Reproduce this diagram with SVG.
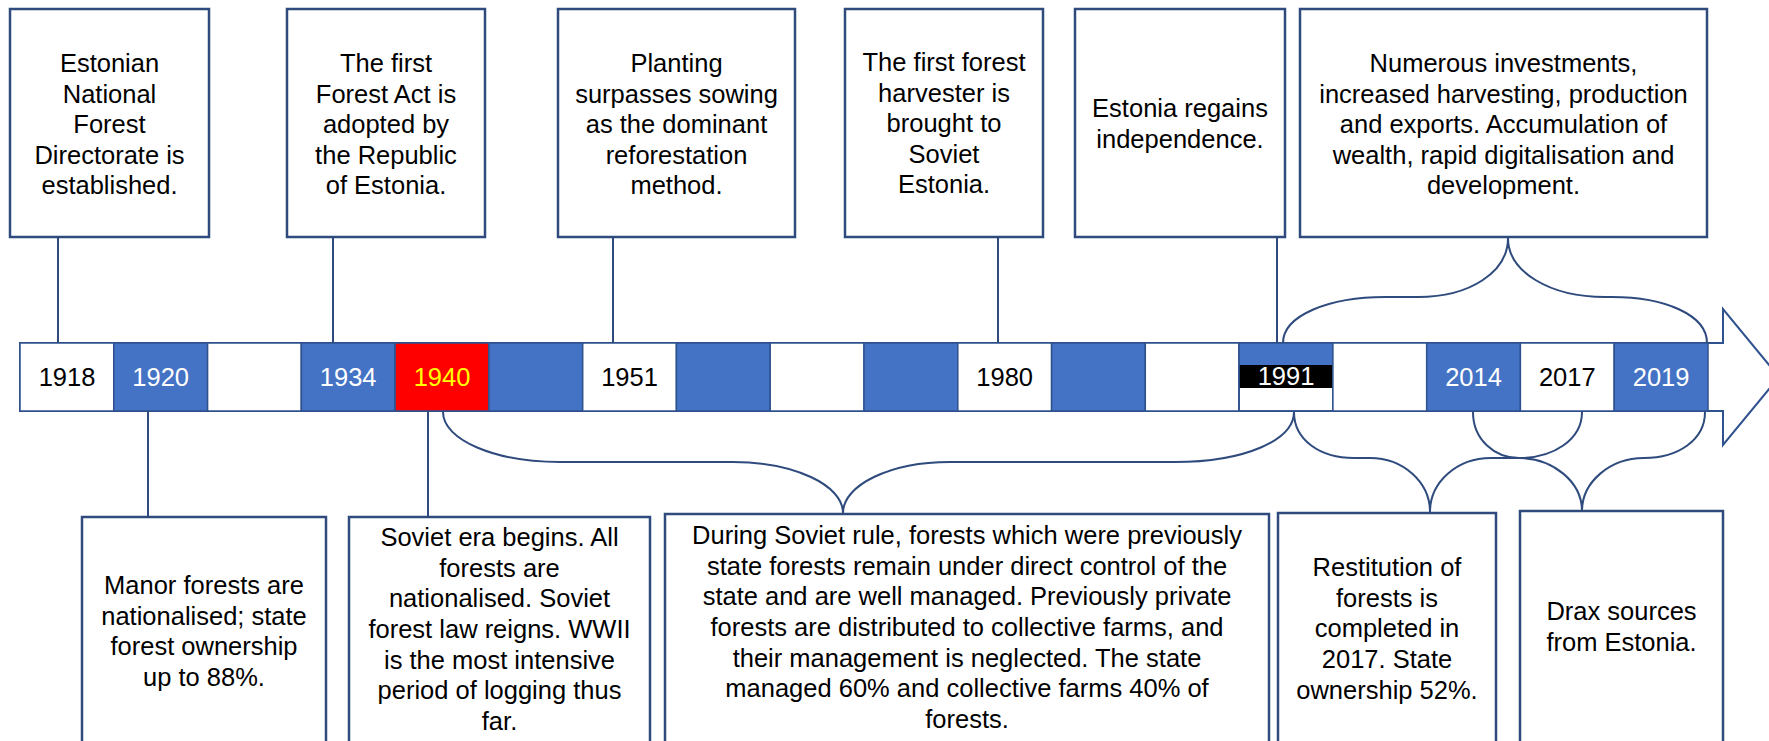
<svg xmlns="http://www.w3.org/2000/svg" width="1769" height="741" viewBox="0 0 1769 741">
<style>
.box{fill:#fff;stroke:#2F4B7D;stroke-width:2.5}
.ln{fill:none;stroke:#2F4B7D;stroke-width:2}
.t{font-family:"Liberation Sans",Arial,sans-serif;font-size:25.5px;fill:#000;text-anchor:middle}
.cw{fill:#fff;stroke:#2F528F;stroke-width:1.5}
.cb{fill:#4472C4;stroke:#2F528F;stroke-width:1.5}
.yw{fill:#fff}
</style>
<rect width="1769" height="741" fill="#fff"/>

<g id="timeline">
<path d="M20,343 L1723,343 L1723,309 L1779,377 L1723,445 L1723,411 L20,411 Z" fill="#fff" stroke="#2F528F" stroke-width="2"/>
<rect class="cw" x="20" y="343" width="93.8" height="68"/>
<rect class="cb" x="113.8" y="343" width="93.8" height="68"/>
<rect class="cw" x="207.6" y="343" width="93.7" height="68"/>
<rect class="cb" x="301.3" y="343" width="93.8" height="68"/>
<rect x="395.1" y="343" width="93.8" height="68" fill="#FF0000" stroke="#2F528F" stroke-width="1.5"/>
<rect class="cb" x="488.9" y="343" width="93.8" height="68"/>
<rect class="cw" x="582.7" y="343" width="93.7" height="68"/>
<rect class="cb" x="676.4" y="343" width="93.8" height="68"/>
<rect class="cw" x="770.2" y="343" width="93.8" height="68"/>
<rect class="cb" x="864" y="343" width="93.8" height="68"/>
<rect class="cw" x="957.8" y="343" width="93.8" height="68"/>
<rect class="cb" x="1051.6" y="343" width="93.7" height="68"/>
<rect class="cw" x="1145.3" y="343" width="93.8" height="68"/>
<rect class="cw" x="1239.1" y="343" width="93.8" height="68"/>
<rect x="1239.1" y="343" width="93.8" height="22" fill="#4472C4"/>
<rect x="1239.1" y="365" width="93.8" height="23" fill="#000"/>
<rect x="1239.1" y="343" width="93.8" height="68" fill="none" stroke="#2F528F" stroke-width="1.5"/>
<rect class="cw" x="1332.9" y="343" width="93.8" height="68"/>
<rect class="cb" x="1426.7" y="343" width="93.7" height="68"/>
<rect class="cw" x="1520.4" y="343" width="93.8" height="68"/>
<rect class="cb" x="1614.2" y="343" width="93.8" height="68"/>
<text class="t" x="67" y="386">1918</text>
<text class="t yw" x="160.7" y="386">1920</text>
<text class="t yw" x="348.2" y="386">1934</text>
<text class="t" x="442" y="386" style="fill:#FFFF00">1940</text>
<text class="t" x="629.5" y="386">1951</text>
<text class="t" x="1004.7" y="386">1980</text>
<text class="t yw" x="1286" y="385">1991</text>
<text class="t yw" x="1473.5" y="386">2014</text>
<text class="t" x="1567.3" y="386">2017</text>
<text class="t yw" x="1661.1" y="386">2019</text>
</g>

<g id="connectors">
<line class="ln" x1="58" y1="237" x2="58" y2="343"/>
<line class="ln" x1="333" y1="237" x2="333" y2="343"/>
<line class="ln" x1="613" y1="237" x2="613" y2="343"/>
<line class="ln" x1="998" y1="237" x2="998" y2="343"/>
<line class="ln" x1="1277" y1="237" x2="1277" y2="343"/>
<line class="ln" x1="148" y1="411" x2="148" y2="517"/>
<line class="ln" x1="428" y1="411" x2="428" y2="517"/>
<path class="ln" d="M1283,343 C1283,315 1330,297 1385,297 L1418,297 C1470,297 1508,272 1508,238 C1508,272 1550,297 1605,297 L1612,297 C1665,297 1707,315 1707,343"/>
<path class="ln" d="M443,412 C443,440 495,462 560,462 L733,462 C794,462 843,485 843,513 C843,485 890,462 950,462 L1175,462 C1245,462 1294,440 1294,412"/>
<path class="ln" d="M1294,412 C1294,440 1320,458 1354,458 L1370,458 C1403,458 1430,482 1430,512 C1430,482 1457,458 1491,458 L1519,458 C1553,458 1582,440 1582,412"/>
<path class="ln" d="M1473,412 C1473,440 1495,458 1519,458 C1553,458 1582,482 1582,511 C1582,482 1610,458 1644,458 C1678,458 1705,440 1705,412"/>
</g>

<g id="n1918">
<rect class="box" x="10" y="9" width="199" height="228"/>
<text class="t"><tspan x="109.5" y="72">Estonian</tspan><tspan x="109.5" y="102.5">National</tspan><tspan x="109.5" y="133">Forest</tspan><tspan x="109.5" y="163.5">Directorate is</tspan><tspan x="109.5" y="194">established.</tspan></text>
</g>
<g id="n1934">
<rect class="box" x="287" y="9" width="198" height="228"/>
<text class="t"><tspan x="386" y="72">The first</tspan><tspan x="386" y="102.5">Forest Act is</tspan><tspan x="386" y="133">adopted by</tspan><tspan x="386" y="163.5">the Republic</tspan><tspan x="386" y="194">of Estonia.</tspan></text>
</g>
<g id="n1951">
<rect class="box" x="558" y="9" width="237" height="228"/>
<text class="t"><tspan x="676.5" y="72">Planting</tspan><tspan x="676.5" y="102.5">surpasses sowing</tspan><tspan x="676.5" y="133">as the dominant</tspan><tspan x="676.5" y="163.5">reforestation</tspan><tspan x="676.5" y="194">method.</tspan></text>
</g>
<g id="n1980">
<rect class="box" x="845" y="9" width="198" height="228"/>
<text class="t"><tspan x="944" y="71">The first forest</tspan><tspan x="944" y="101.5">harvester is</tspan><tspan x="944" y="132">brought to</tspan><tspan x="944" y="162.5">Soviet</tspan><tspan x="944" y="193">Estonia.</tspan></text>
</g>
<g id="n1991">
<rect class="box" x="1075" y="9" width="210" height="228"/>
<text class="t"><tspan x="1180" y="117">Estonia regains</tspan><tspan x="1180" y="147.5">independence.</tspan></text>
</g>
<g id="n2014">
<rect class="box" x="1300" y="9" width="407" height="228"/>
<text class="t"><tspan x="1503.5" y="72">Numerous investments,</tspan><tspan x="1503.5" y="102.5">increased harvesting, production</tspan><tspan x="1503.5" y="133">and exports. Accumulation of</tspan><tspan x="1503.5" y="163.5">wealth, rapid digitalisation and</tspan><tspan x="1503.5" y="194">development.</tspan></text>
</g>

<g id="n1920">
<rect class="box" x="82" y="517" width="244" height="250"/>
<text class="t"><tspan x="204" y="594">Manor forests are</tspan><tspan x="204" y="624.7">nationalised; state</tspan><tspan x="204" y="655.4">forest ownership</tspan><tspan x="204" y="686">up to 88%.</tspan></text>
</g>
<g id="n1940">
<rect class="box" x="349" y="517" width="301" height="250"/>
<text class="t"><tspan x="499.5" y="546">Soviet era begins. All</tspan><tspan x="499.5" y="576.7">forests are</tspan><tspan x="499.5" y="607.4">nationalised. Soviet</tspan><tspan x="499.5" y="638">forest law reigns. WWII</tspan><tspan x="499.5" y="668.7">is the most intensive</tspan><tspan x="499.5" y="699.4">period of logging thus</tspan><tspan x="499.5" y="730">far.</tspan></text>
</g>
<g id="nsoviet">
<rect class="box" x="665" y="514" width="604" height="250"/>
<text class="t"><tspan x="967" y="544">During Soviet rule, forests which were previously</tspan><tspan x="967" y="574.7">state forests remain under direct control of the</tspan><tspan x="967" y="605.4">state and are well managed. Previously private</tspan><tspan x="967" y="636">forests are distributed to collective farms, and</tspan><tspan x="967" y="666.7">their management is neglected. The state</tspan><tspan x="967" y="697.4">managed 60% and collective farms 40% of</tspan><tspan x="967" y="728">forests.</tspan></text>
</g>
<g id="n2017">
<rect class="box" x="1278" y="513" width="218" height="250"/>
<text class="t"><tspan x="1387" y="576">Restitution of</tspan><tspan x="1387" y="606.7">forests is</tspan><tspan x="1387" y="637.4">completed in</tspan><tspan x="1387" y="668">2017. State</tspan><tspan x="1387" y="698.7">ownership 52%.</tspan></text>
</g>
<g id="n2019">
<rect class="box" x="1520" y="511" width="203" height="250"/>
<text class="t"><tspan x="1621.5" y="620">Drax sources</tspan><tspan x="1621.5" y="651">from Estonia.</tspan></text>
</g>
</svg>
